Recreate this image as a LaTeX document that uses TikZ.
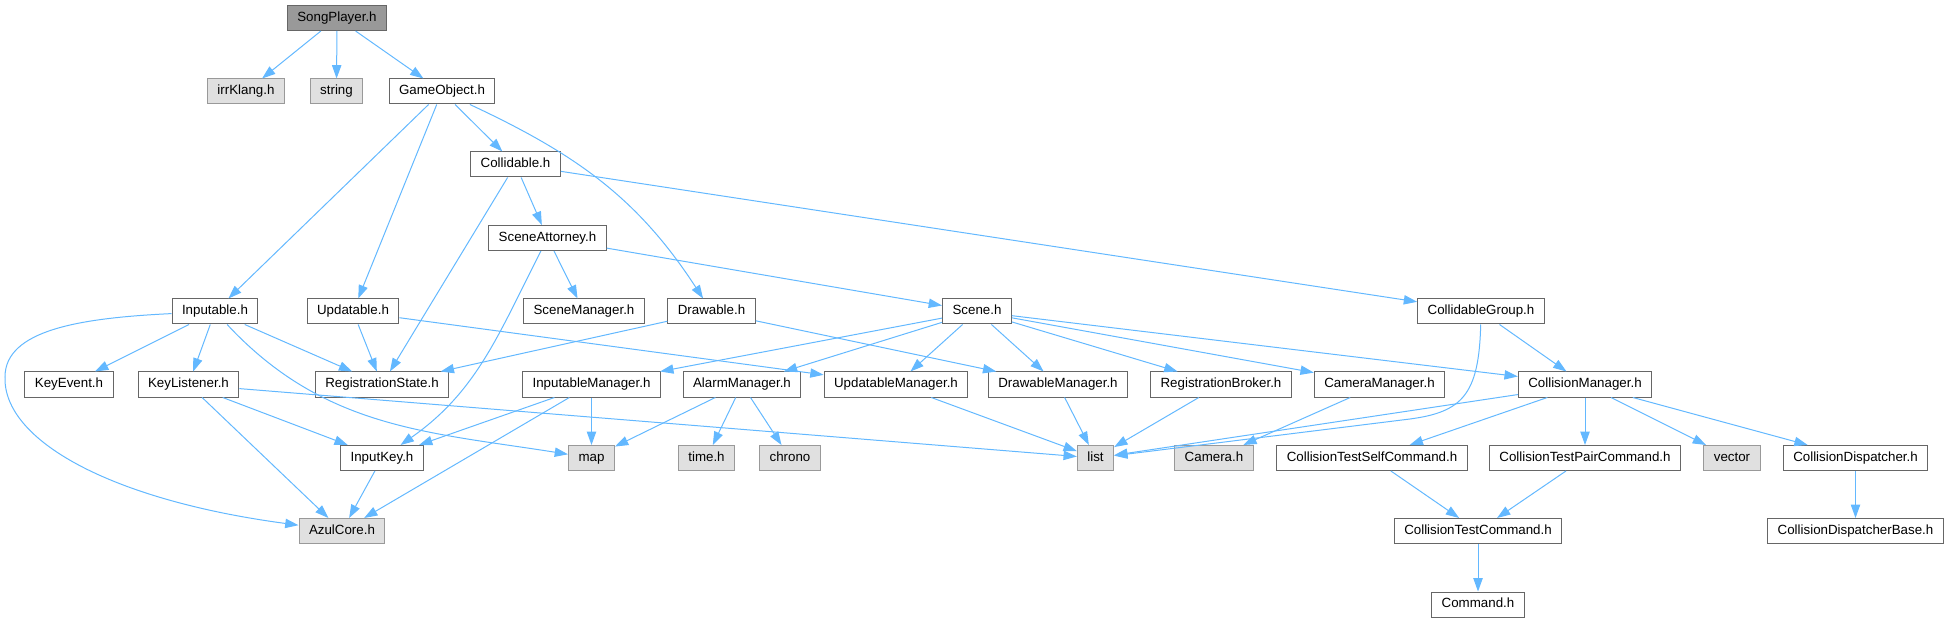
\documentclass[tikz,border=0pt]{standalone}
\usepackage{fontspec}
\setmainfont{Liberation Sans}
\usetikzlibrary{arrows.meta}
\definecolor{edgeblue}{HTML}{63B8FF}
\definecolor{docgray}{HTML}{666666}
\definecolor{sysgray}{HTML}{999999}
\definecolor{sysfill}{HTML}{E0E0E0}
\definecolor{rootfill}{HTML}{999999}

\begin{document}
\begin{tikzpicture}[
        x=0.75pt, y=-0.75pt,
        hdr/.style={rectangle, draw=docgray, fill=white, line width=0.75pt, minimum height=18.75pt, inner xsep=7.5pt, inner ysep=0pt, text height=7.2pt, text depth=2.1pt, font=\fontsize{10}{12}\selectfont},
        sys/.style={hdr, draw=sysgray, fill=sysfill},
        root/.style={hdr, fill=rootfill},
        dep/.style={-{Triangle[length=10pt, width=7pt]}, draw=edgeblue, line width=0.75pt},
    ]

    \useasboundingbox (0,0) rectangle (1948,623);

    % ===== Rows 0-3: SongPlayer and its first includes =====
    \node[root] (SP) at (337,18) {SongPlayer.h};

    \node[sys] (IRR) at (246,91.5) {irrKlang.h};
    \node[sys] (STR) at (336.5,91.5) {string};
    \node[hdr] (GO)  at (442,91.5) {GameObject.h};

    \node[hdr] (COL) at (515.5,164.5) {Collidable.h};
    \node[hdr] (SA)  at (547.5,238) {SceneAttorney.h};

    % ===== Row 4 =====
    \node[hdr] (INP) at (215,311.5) {Inputable.h};
    \node[hdr] (UPD) at (353,311.5) {Updatable.h};
    \node[hdr] (SM)  at (584,311.5) {SceneManager.h};
    \node[hdr] (DRW) at (711.5,311.5) {Drawable.h};
    \node[hdr] (SCN) at (977,311.5) {Scene.h};
    \node[hdr] (CG)  at (1481,311.5) {CollidableGroup.h};

    % ===== Row 5 =====
    \node[hdr] (KE)   at (69,384.5) {KeyEvent.h};
    \node[hdr] (KL)   at (188.5,384.5) {KeyListener.h};
    \node[hdr] (RS)   at (382,384.5) {RegistrationState.h};
    \node[hdr] (IM)   at (591.5,384.5) {InputableManager.h};
    \node[hdr] (AM)   at (742,384.5) {AlarmManager.h};
    \node[hdr] (UM)   at (896,384.5) {UpdatableManager.h};
    \node[hdr] (DM)   at (1058,384.5) {DrawableManager.h};
    \node[hdr] (RB)   at (1221,384.5) {RegistrationBroker.h};
    \node[hdr] (CAMM) at (1379.5,384.5) {CameraManager.h};
    \node[hdr] (CLM)  at (1585,384.5) {CollisionManager.h};

    % ===== Row 6 =====
    \node[hdr] (IKY)  at (382,458) {InputKey.h};
    \node[sys] (MAP)  at (591.5,458) {map};
    \node[sys] (TIME) at (706.5,458) {time.h};
    \node[sys] (CHR)  at (790,458) {chrono};
    \node[sys] (LST)  at (1095.5,458) {list};
    \node[sys] (CAM)  at (1214,458) {Camera.h};
    \node[hdr] (CTS)  at (1372,458) {CollisionTestSelfCommand.h};
    \node[hdr] (CTP)  at (1585,458) {CollisionTestPairCommand.h};
    \node[sys] (VEC)  at (1732,458) {vector};
    \node[hdr] (CD)   at (1855.5,458) {CollisionDispatcher.h};

    % ===== Rows 7-8 =====
    \node[sys] (AZ)  at (342,531) {AzulCore.h};
    \node[hdr] (CTC) at (1478,531) {CollisionTestCommand.h};
    \node[hdr] (CDB) at (1855.5,531) {CollisionDispatcherBase.h};
    \node[hdr] (CMD) at (1478,604.5) {Command.h};

    % ===== Edges =====
    \draw[dep] (SP) -- (IRR);
    \draw[dep] (SP) -- (STR);
    \draw[dep] (SP) -- (GO);

    \draw[dep] (GO) -- (INP);
    \draw[dep] (GO) -- (UPD);
    \draw[dep] (GO) -- (COL);
    \draw[dep] (GO) to[out=-25, in=123] (DRW);

    \draw[dep] (COL) -- (SA);
    \draw[dep] (COL) -- (RS);
    \draw[dep] (COL) -- (CG);

    \draw[dep] (SA) -- (SM);
    \draw[dep] (SA) -- (SCN);
    \draw[dep] (SA) to[out=-117, in=35] (IKY);

    \draw[dep] (INP) -- (KE);
    \draw[dep] (INP) -- (KL);
    \draw[dep] (INP) -- (RS);
    \draw[dep] (INP) to[out=-47, in=171] (MAP);
    \draw[dep] (INP) .. controls (80,318) and (5,330) .. (5,377)
        .. controls (3,440) and (110,500) .. (AZ);

    \draw[dep] (UPD) -- (RS);
    \draw[dep] (UPD) -- (UM);
    \draw[dep] (DRW) -- (RS);
    \draw[dep] (DRW) -- (DM);

    \draw[dep] (SCN) -- (IM);
    \draw[dep] (SCN) -- (AM);
    \draw[dep] (SCN) -- (UM);
    \draw[dep] (SCN) -- (DM);
    \draw[dep] (SCN) -- (RB);
    \draw[dep] (SCN) -- (CAMM);
    \draw[dep] (SCN) -- (CLM);

    \draw[dep] (CG) -- (CLM);
    \draw[dep] (CG) .. controls (1479,395) and (1462,412) .. (1410,419) -- (LST);

    \draw[dep] (KL) -- (IKY);
    \draw[dep] (KL) -- (AZ);
    \draw[dep] (KL) -- (LST);

    \draw[dep] (IM) -- (MAP);
    \draw[dep] (IM) -- (IKY);
    \draw[dep] (IM) -- (AZ);

    \draw[dep] (AM) -- (MAP);
    \draw[dep] (AM) -- (TIME);
    \draw[dep] (AM) -- (CHR);

    \draw[dep] (UM) -- (LST);
    \draw[dep] (DM) -- (LST);
    \draw[dep] (RB) -- (LST);
    \draw[dep] (CAMM) -- (CAM);

    \draw[dep] (CLM) -- (LST);
    \draw[dep] (CLM) -- (CTS);
    \draw[dep] (CLM) -- (CTP);
    \draw[dep] (CLM) -- (VEC);
    \draw[dep] (CLM) -- (CD);

    \draw[dep] (IKY) -- (AZ);
    \draw[dep] (CTS) -- (CTC);
    \draw[dep] (CTP) -- (CTC);
    \draw[dep] (CTC) -- (CMD);
    \draw[dep] (CD) -- (CDB);

\end{tikzpicture}
\end{document}
